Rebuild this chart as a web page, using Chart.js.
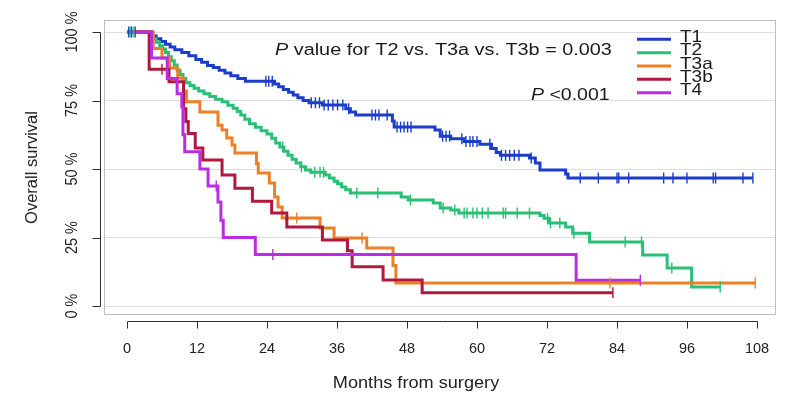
<!DOCTYPE html>
<html>
<head>
<meta charset="utf-8">
<script src="https://cdn.jsdelivr.net/npm/chart.js@4.4.1/dist/chart.umd.min.js"></script>
<style>
html,body{margin:0;padding:0;background:#ffffff;}
#wrap{width:789px;height:397px;position:relative;}
</style>
</head>
<body>
<div id="wrap"><canvas id="c" width="789" height="397"></canvas></div>
<script>
// ---------- data ----------
const seriesNames = ['T1', 'T2', 'T3a', 'T3b', 'T4'];
const seriesColors = ['#1c3cca', '#2abf76', '#ec8027', '#b0183e', '#bb2de0'];

const t1Times = [0,4.3,5,5.8,6.6,7.4,8.2,9.4,10.6,11.8,12.8,13.8,14.8,15.8,16.8,17.8,19,20.3,25.3,26,26.8,27.7,28.5,29.3,30.2,31.2,33.5,37.5,38.3,39.2,45.5,45.8,52.8,53.7,55.5,57.8,60.5,62.5,63.3,64,69,70,70.8,75.2,75.6];
const t1Surv  = [100,98.5,97.5,96.5,95.5,94.5,93.5,92.5,91.3,90,89,87.8,87,86,85,84,83,82,81,80,79,78,77,76,75,74.2,73.4,72,70.8,69.7,67.5,65.3,64.2,62,61,60,59,57.5,56,55,54,52.2,49.6,48.2,46.7];
const t1End = 107.3;
const t1Censor = [0.3,0.8,1.4,23.8,24.3,24.9,31.6,32.3,33,33.8,34.5,35.3,36.1,37,38,42,42.6,43.2,44.6,46.3,46.9,47.5,48.1,48.7,54.1,54.7,55.3,57.4,58.1,58.8,59.3,60,62.2,64.2,64.9,65.6,66.4,67.2,69.3,77.7,80.8,84,84.3,86,92,93.6,96,100.5,100.9,105.6,107.3];

const t2Times = [0,3.9,4.5,5,5.6,6.1,6.6,7.1,7.6,8.1,8.6,9.1,9.6,10.1,10.8,11.5,12.3,13.2,14.2,15.2,16.3,17.3,18.2,18.9,19.5,20.2,21,22,23,24,24.8,25.5,26.2,26.9,27.6,28.3,29,29.8,30.6,31.5,34,34.7,35.5,36.1,36.8,37.5,38.3,47,48.2,52.5,53.7,55.5,56.9,70.8,71.5,72.3,75.2,76.4,79.3,88.4,92.6,96.8];
const t2Surv  = [100,99,97.5,96.3,95,93.8,92.5,91,89.5,88,86,84.5,83,81.5,80.5,79.5,78.5,77.5,76.5,75.5,74.5,73.3,72.2,71,69.7,68.2,66.5,65.2,64,62.8,61.2,59.5,58,56.5,55,53.6,52.2,50.8,49.6,48.8,47.8,46.7,45.5,44.6,43.4,42.4,41.2,39.8,38.7,37.6,35.8,35,33.9,33,32,30.3,28.8,26.6,23.4,18.6,13.9,6.9];
const t2End = 101.7;
const t2Censor = [0.6,1.2,26.7,29.9,32.2,33.1,33.7,39.4,43,48.6,54.2,56.2,57.8,58.3,59.3,60,60.9,61.9,64.5,64.9,66.9,69,72.1,72.6,74.2,76.6,85.4,88.2,93.4,101.7];

const t3aTimes = [0,4.5,6,7.3,8.7,9.7,10.2,12.5,15.6,16.3,17.1,18,18.5,22.2,22.5,24.4,25.3,25.9,26.6,33.1,35.5,41.1,45.6,46.1];
const t3aSurv  = [100,94,90.5,86.9,83.2,78.5,74.5,70.8,66,64.2,61.3,58.8,55.8,52,48.5,44.9,39.8,36.1,32.1,28.5,24.8,21.2,14.8,8.4];
const t3aEnd = 107.7;
const t3aCensor = [29.1,40.3,82.8,107.7];

const t3bTimes = [0,3.8,7.2,9.7,10.1,10.5,11.7,13,16.3,18.5,21.5,24.8,27.4,33.5,37.8,38.6,43.9,50.6];
const t3bSurv  = [100,86.4,81.8,72,67.3,63,57.7,53.3,47.8,43,38.2,33.9,28.8,24.1,20.2,14.3,9.5,4.8];
const t3bEnd = 83.3;
const t3bCensor = [6,83.3];

const t4Times = [0,4.2,6.9,8.6,9.4,9.6,9.9,12.5,13.9,15.6,16.1,16.5,22,77];
const t4Surv  = [100,90.5,83,77.5,72.6,62.5,56.3,50,43.8,38,31.3,25,18.8,9.4];
const t4End = 88;
const t4Censor = [15.3,25,88];

const xTickValues = [0,12,24,36,48,60,72,84,96,108];
const yTickValues = [0,25,50,75,100];
const yTickLabels = ['0 %','25 %','50 %','75 %','100 %'];
const xAxisTitle = 'Months from surgery';
const yAxisTitle = 'Overall survival';
const pTextItalic = 'P';
const pText1 = ' value for T2 vs. T3a vs. T3b = 0.003';
const pText2 = ' <0.001';

// ---------- build datasets ----------
const allTimes = [t1Times, t2Times, t3aTimes, t3bTimes, t4Times];
const allSurv = [t1Surv, t2Surv, t3aSurv, t3bSurv, t4Surv];
const allEnd = [t1End, t2End, t3aEnd, t3bEnd, t4End];
const allCensor = [t1Censor, t2Censor, t3aCensor, t3bCensor, t4Censor];

function survAt(times, surv, t) {
  let s = surv[0];
  for (let i = 0; i < times.length; i++) { if (times[i] <= t) s = surv[i]; }
  return s;
}

const datasets = [];
for (let k = 0; k < seriesNames.length; k++) {
  const pts = allTimes[k].map((t, i) => ({x: t, y: allSurv[k][i]}));
  pts.push({x: allEnd[k], y: allSurv[k][allSurv[k].length - 1]});
  datasets.push({
    label: seriesNames[k], data: pts, stepped: true,
    borderColor: seriesColors[k], borderWidth: 3, pointRadius: 0, fill: false,
    order: 10 - k
  });
}
for (let k = 0; k < seriesNames.length; k++) {
  datasets.push({
    label: seriesNames[k] + ' censored',
    data: allCensor[k].map(t => ({x: t, y: survAt(allTimes[k], allSurv[k], t)})),
    showLine: false, pointStyle: 'line', rotation: 90, pointRadius: 5.5,
    pointBorderColor: seriesColors[k], pointBorderWidth: 1.4, borderColor: seriesColors[k],
    pointHoverRadius: 5.5, order: 5 - k
  });
}

const FONT = '"Liberation Sans", Arial, Helvetica, sans-serif';

function drawParts(ctx, parts, x, y, sx, align) {
  ctx.save();
  let total = 0;
  parts.forEach(p => { ctx.font = p.font; total += ctx.measureText(p.text).width; });
  ctx.translate(x, y);
  ctx.scale(sx, 1);
  let cx = align === 'center' ? -total / 2 : 0;
  ctx.textAlign = 'left';
  parts.forEach(p => { ctx.font = p.font; ctx.fillText(p.text, cx, 0); cx += ctx.measureText(p.text).width; });
  ctx.restore();
}

const decor = {
  id: 'decor',
  beforeDatasetsDraw(chart) {
    const {ctx, chartArea: a} = chart;
    ctx.save();
    ctx.strokeStyle = '#bcbcbc'; ctx.lineWidth = 1;
    ctx.strokeRect(a.left + 0.5, a.top + 0.5, a.right - a.left - 1, a.bottom - a.top - 1);
    ctx.restore();
  },
  afterDraw(chart) {
    const {ctx, chartArea: a, scales: {x, y}} = chart;
    ctx.save();
    ctx.strokeStyle = '#2e2e2e'; ctx.lineWidth = 1; ctx.lineCap = 'butt';
    // y axis line + ticks
    const ax = a.left - 3.5;
    ctx.beginPath();
    ctx.moveTo(ax, Math.round(y.getPixelForValue(yTickValues[0])) + 0.5);
    ctx.lineTo(ax, Math.round(y.getPixelForValue(yTickValues[yTickValues.length - 1])) + 0.5);
    ctx.stroke();
    yTickValues.forEach(v => {
      const p = Math.round(y.getPixelForValue(v)) + 0.5;
      ctx.beginPath(); ctx.moveTo(ax, p); ctx.lineTo(ax - 8, p); ctx.stroke();
    });
    // x axis line + ticks
    const ay = a.bottom + 6.5;
    ctx.beginPath();
    ctx.moveTo(Math.round(x.getPixelForValue(xTickValues[0])) + 0.5, ay);
    ctx.lineTo(Math.round(x.getPixelForValue(xTickValues[xTickValues.length - 1])) + 0.5, ay);
    ctx.stroke();
    xTickValues.forEach(v => {
      const p = Math.round(x.getPixelForValue(v)) + 0.5;
      ctx.beginPath(); ctx.moveTo(p, ay); ctx.lineTo(p, ay + 7); ctx.stroke();
    });

    // y tick labels (rotated, parallel to axis)
    ctx.fillStyle = '#222';
    ctx.font = '14.5px ' + FONT;
    ctx.textAlign = 'center'; ctx.textBaseline = 'middle';
    yTickValues.forEach((v, i) => {
      ctx.save();
      ctx.translate(a.left - 32, y.getPixelForValue(v));
      ctx.rotate(-Math.PI / 2);
      ctx.scale(1, 1.15);
      ctx.fillText(yTickLabels[i], 0, 0);
      ctx.restore();
    });

    // x axis title
    ctx.fillStyle = '#222';
    ctx.textBaseline = 'middle';
    drawParts(ctx, [{text: xAxisTitle, font: '16.5px ' + FONT}], 416, 383, 1.1, 'center');

    // annotations
    ctx.textBaseline = 'alphabetic';
    ctx.fillStyle = '#1a1a1a';
    drawParts(ctx, [{text: pTextItalic, font: 'italic 16px ' + FONT}, {text: pText1, font: '16px ' + FONT}], 275, 54.5, 1.24);
    drawParts(ctx, [{text: pTextItalic, font: 'italic 16px ' + FONT}, {text: pText2, font: '16px ' + FONT}], 531, 100, 1.22);

    // legend
    seriesNames.forEach((n, i) => {
      const ly = 39.3 + i * 13.35;
      ctx.strokeStyle = seriesColors[i]; ctx.lineWidth = 3; ctx.lineCap = 'butt';
      ctx.beginPath(); ctx.moveTo(637, ly); ctx.lineTo(671, ly); ctx.stroke();
      ctx.fillStyle = '#1a1a1a';
      drawParts(ctx, [{text: n, font: '16.5px ' + FONT}], 680, ly + 2.6, 1.15);
    });
    ctx.restore();
  }
};

new Chart(document.getElementById('c'), {
  type: 'line',
  data: {datasets: datasets},
  plugins: [decor],
  options: {
    responsive: false, animation: false, devicePixelRatio: 1,
    layout: {padding: {top: 20, right: 13, bottom: 0, left: 0}},
    plugins: {legend: {display: false}, tooltip: {enabled: false}},
    scales: {
      x: {
        type: 'linear', min: -3.94, max: 111.26,
        afterBuildTicks: s => { s.ticks = xTickValues.map(v => ({value: v})); },
        afterFit: s => { s.height = 82; },
        grid: {display: false, drawTicks: true, tickLength: 22, color: 'rgba(0,0,0,0)'},
        border: {display: false},
        ticks: {padding: 3, autoSkip: false, maxRotation: 0, color: '#222',
                font: {family: FONT, size: 14.5}, callback: v => String(v)},
        title: {display: false, text: xAxisTitle}
      },
      y: {
        type: 'linear', min: -3.28, max: 104.38,
        afterBuildTicks: s => { s.ticks = yTickValues.map(v => ({value: v})); },
        afterFit: s => { s.width = 104; },
        grid: {color: '#dedede', lineWidth: 1, drawTicks: false},
        border: {display: false},
        ticks: {display: false},
        title: {display: true, text: yAxisTitle, color: '#222',
                font: {family: FONT, size: 16.5}, padding: {top: 23, bottom: 0}}
      }
    }
  }
});
</script>
</body>
</html>
